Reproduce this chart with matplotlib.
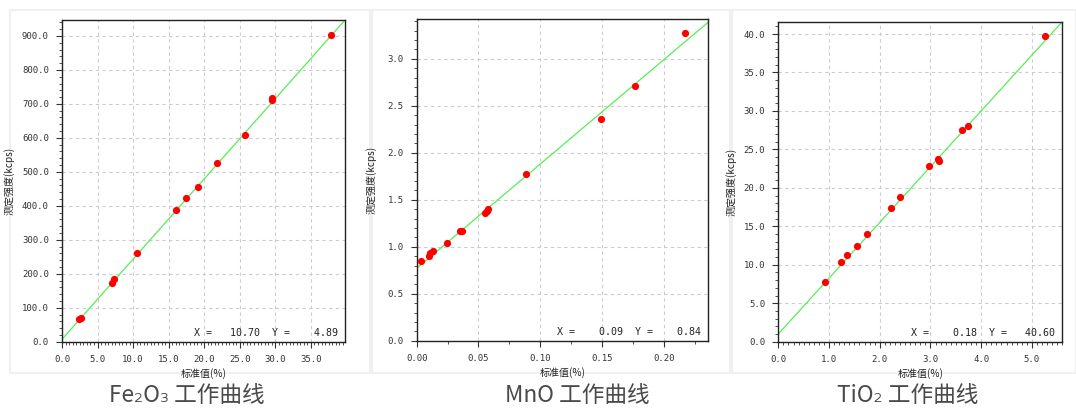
import matplotlib
matplotlib.use("Agg")
import matplotlib.pyplot as plt
from matplotlib.ticker import MultipleLocator, FormatStrFormatter
from matplotlib.patches import Rectangle

# ---------------- data ----------------
titles = ["Fe₂O₃ 工作曲线", "MnO 工作曲线", "TiO₂ 工作曲线"]
xlabel = "标准值(%)"
ylabel = "测定强度(kcps)"

fe_x = [2.45, 2.7, 7.0, 7.3, 10.5, 16.0, 17.5, 19.1, 21.8, 25.8, 29.5, 29.6, 37.8]
fe_y = [66, 71, 174, 184, 262, 388, 423, 454, 525, 608, 711, 716, 904]
fe_line_x = [0.0, 39.8]
fe_line_y = [7.0, 947.0]
fe_cursor = (10.70, 4.89)

mn_x = [0.0037, 0.010, 0.011, 0.013, 0.0245, 0.035, 0.037, 0.0555, 0.0565, 0.0578,
        0.0887, 0.1489, 0.1763, 0.217]
mn_y = [0.845, 0.90, 0.93, 0.955, 1.035, 1.17, 1.17, 1.355, 1.38, 1.40,
        1.77, 2.36, 2.715, 3.27]
mn_line_x = [0.0, 0.236]
mn_line_y = [0.77, 3.39]
mn_cursor = (0.09, 0.84)

ti_x = [0.92, 1.246, 1.36, 1.555, 1.75, 2.217, 2.39, 2.98, 3.14, 3.16, 3.63, 3.74, 5.26]
ti_y = [7.8, 10.4, 11.28, 12.45, 14.05, 17.36, 18.79, 22.86, 23.8, 23.55, 27.46, 28.1, 39.8]
ti_line_x = [0.0, 5.6]
ti_line_y = [1.0, 41.6]
ti_cursor = (0.18, 40.60)

# ---------------- layout ----------------
W, H = 1076, 409
fig = plt.figure(figsize=(W / 100, H / 100), dpi=100)
fig.patch.set_facecolor("white")

cjk = ["Noto Sans CJK SC", "DejaVu Sans"]
mono = "DejaVu Sans Mono"

# panel frames (pixel coords: x0, y0_top, x1, y1_bottom)
frames = [(10, 10, 370, 373), (372, 10, 730, 373), (732, 10, 1076, 373)]
for (x0, y0, x1, y1) in frames:
    fig.patches.append(Rectangle((x0 / W, 1 - y1 / H), (x1 - x0) / W, (y1 - y0) / H,
                                 transform=fig.transFigure, facecolor="none",
                                 edgecolor="#f0f0f0", linewidth=1.5, zorder=-1))

# axes rects in pixels: left, top, right, bottom
rects = [(62, 20, 345, 341.7), (416.7, 19.3, 708.3, 340.7), (778.3, 21.7, 1062.3, 341.7)]
title_cx = [187, 577, 908]

panels = [
    dict(x=fe_x, y=fe_y, lx=fe_line_x, ly=fe_line_y, cur=fe_cursor,
         xlim=(0, 39.8), ylim=(0, 947), xmaj=5, xmin=0.5, ymaj=100, ymin=20,
         xfmt="%.1f", yfmt="%.1f", ylab_off=47),
    dict(x=mn_x, y=mn_y, lx=mn_line_x, ly=mn_line_y, cur=mn_cursor,
         xlim=(0, 0.236), ylim=(0, 3.42), xmaj=0.05, xmin=0.025, ymaj=0.5, ymin=0.1,
         xfmt="%.2f", yfmt="%.1f", ylab_off=40),
    dict(x=ti_x, y=ti_y, lx=ti_line_x, ly=ti_line_y, cur=ti_cursor,
         xlim=(0, 5.6), ylim=(0, 41.6), xmaj=1, xmin=0.1, ymaj=5, ymin=1,
         xfmt="%.1f", yfmt="%.1f", ylab_off=41.6),
]

for i, p in enumerate(panels):
    l, t, r, b = rects[i]
    wpx, hpx = r - l, b - t
    ax = fig.add_axes([l / W, 1 - b / H, wpx / W, hpx / H])
    ax.set_facecolor("white")
    ax.set_xlim(*p["xlim"])
    ax.set_ylim(*p["ylim"])

    ax.plot(p["lx"], p["ly"], color="#55ee55", linewidth=0.9, zorder=2)
    ax.plot(p["x"], p["y"], linestyle="none", marker="o", markersize=5.2,
            color="#ff0000", markeredgewidth=0, zorder=3)

    ax.xaxis.set_major_locator(MultipleLocator(p["xmaj"]))
    ax.xaxis.set_minor_locator(MultipleLocator(p["xmin"]))
    ax.yaxis.set_major_locator(MultipleLocator(p["ymaj"]))
    ax.yaxis.set_minor_locator(MultipleLocator(p["ymin"]))
    ax.xaxis.set_major_formatter(FormatStrFormatter(p["xfmt"]))
    ax.yaxis.set_major_formatter(FormatStrFormatter(p["yfmt"]))

    ax.grid(True, which="major", color="#cccccc", linestyle=(0, (3, 3)), linewidth=0.8)
    ax.set_axisbelow(True)

    ax.tick_params(which="major", direction="out", length=4.5, width=0.8, color="#333333",
                   labelsize=6.5, labelcolor="#333333", pad=5)
    ax.tick_params(which="minor", direction="out", length=2.5, width=0.6, color="#333333")
    for lab in ax.get_xticklabels() + ax.get_yticklabels():
        lab.set_fontfamily(mono)
    for s in ax.spines.values():
        s.set_color("#222222")
        s.set_linewidth(1.0)

    ax.set_xlabel(xlabel, fontsize=7.2, family=cjk, color="#222222")
    ax.set_ylabel(ylabel, fontsize=7.2, family=cjk, color="#222222")
    ax.xaxis.set_label_coords(0.5, -26.5 / hpx)
    ax.yaxis.set_label_coords(-p["ylab_off"] / wpx, 0.5)

    cx, cy = p["cur"]
    ax.annotate(f"X = {cx:7.2f}  Y = {cy:7.2f}", xy=(1, 0), xycoords="axes fraction",
                xytext=(-7, 9), textcoords="offset pixels", ha="right", va="center",
                fontsize=7.2, family=mono, color="#222222")

    fig.text(title_cx[i] / W, 1 - 396 / H, titles[i], ha="center", va="center",
             fontsize=16.3, family=cjk, color="#4a4a4a", fontweight="light")

fig.savefig("out.png", dpi=100, facecolor="white")
